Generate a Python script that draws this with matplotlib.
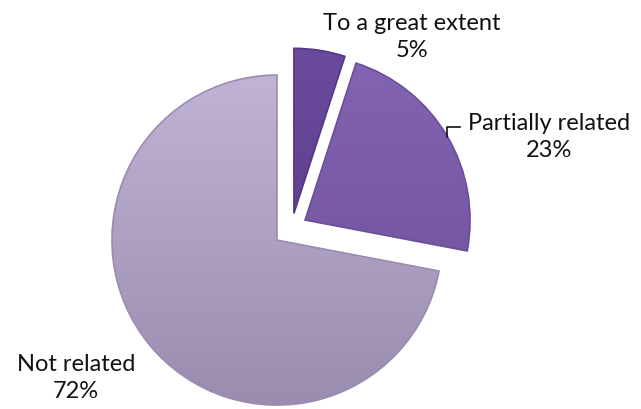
import numpy as np
import matplotlib
matplotlib.use('Agg')
import matplotlib.pyplot as plt
from matplotlib.colors import LinearSegmentedColormap

labels = ['To a great extent', 'Partially related', 'Not related']
values = [5, 23, 72]
explode = [0.09, 0.095, 0.115]
top_colors = ['#6a4a9c', '#8364b2', '#c0b3d6']
bottom_colors = ['#553885', '#6b4e99', '#9a8cae']

W, H = 641, 409
R = 165.0            # pie radius in px
CX, CY = 291.6, 228  # pie centre in px (from top-left)


def px(x, y):
    # pixel position -> data coordinates
    return (x - CX) / R, (CY - y) / R


fig = plt.figure(figsize=(W / 100, H / 100), dpi=100)
ax = fig.add_axes([0, 0, 1, 1])
wedges, _ = ax.pie(values, explode=explode, startangle=90, counterclock=False,
                   colors=top_colors, radius=1.0,
                   wedgeprops=dict(linewidth=0))

# vertical gradient inside every wedge
grad = np.linspace(0, 1, 256).reshape(-1, 1)
for w, c0, c1 in zip(wedges, top_colors, bottom_colors):
    cmap = LinearSegmentedColormap.from_list('g', [c0, c1])
    cx, cy = w.center
    im = ax.imshow(grad, cmap=cmap, extent=[cx - 1, cx + 1, cy - 1, cy + 1],
                   origin='upper', aspect='auto', zorder=2)
    im.set_clip_path(w)
    w.set_facecolor('none')
    w.set_edgecolor(c1)
    w.set_linewidth(1.2)
    w.set_zorder(3)

fs = 17
tkw = dict(ha='center', va='center', fontsize=fs, family=['Lato', 'DejaVu Sans'],
           color='#111111', linespacing=1.3)
pct = ['%d%%' % v for v in values]
ax.text(*px(412, 37), labels[0] + '\n' + pct[0], **tkw)
ax.text(*px(549, 137), labels[1] + '\n' + pct[1], **tkw)
ax.text(*px(76, 378), labels[2] + '\n' + pct[2], **tkw)

# leader line for the partially related label
lx, ly = zip(px(460, 127), px(447, 127), px(447, 137))
ax.plot(lx, ly, color='#111111', lw=1.2, zorder=4)

ax.set_xlim(-CX / R, (W - CX) / R)
ax.set_ylim((CY - H) / R, CY / R)
ax.set_aspect('auto')
ax.axis('off')
plt.savefig('out.png', dpi=100)
plt.close()
